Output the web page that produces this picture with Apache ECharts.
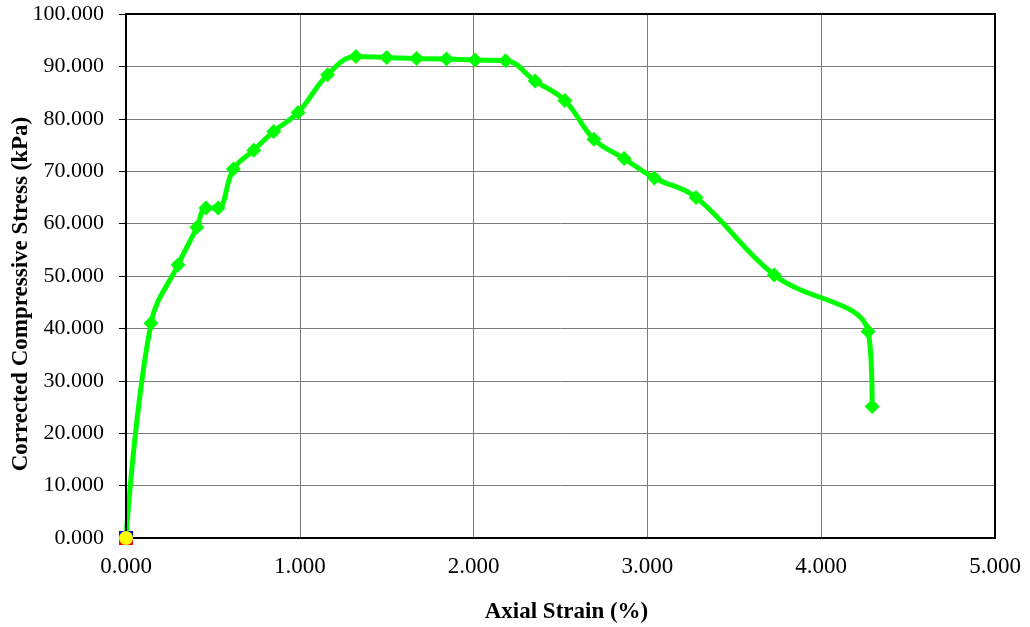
<!DOCTYPE html>
<html>
<head>
<meta charset="utf-8">
<script src="https://cdn.jsdelivr.net/npm/echarts@6/dist/echarts.min.js"></script>
<style>
  html, body { margin: 0; padding: 0; background: #fff; }
  #chart { width: 1030px; height: 627px; }
</style>
</head>
<body>
<div id="chart"></div>
<script>
// axial strain (%) and corrected compressive stress (kPa)
var strain = [0.000, 0.144, 0.299, 0.408, 0.460, 0.530, 0.618, 0.735, 0.850, 0.990, 1.160, 1.323,
  1.500, 1.672, 1.844, 2.008, 2.184, 2.354, 2.525, 2.692, 2.866, 3.040, 3.280, 3.730, 4.270, 4.293]
var stress = [0.000, 41.0, 52.1, 59.3, 63.0, 63.0, 70.4, 74.0, 77.6, 81.2, 88.4, 91.9,
  91.7, 91.5, 91.4, 91.2, 91.1, 87.2, 83.5, 76.1, 72.4, 68.7, 65.0, 50.2, 39.4, 25.1]
var origin = [[0, 0]]

var serif = 'Liberation Serif, Times New Roman, serif'

var chart = echarts.init(document.getElementById('chart'))
window.addEventListener('resize', function () {
  chart.resize()
})

var option = {
  animation: false,
  grid: { left: 126, right: 35, top: 14, bottom: 89, containLabel: false, outerBoundsMode: 'none' },
  xAxis: {
    type: 'value',
    min: 0,
    max: 5,
    interval: 1,
    name: 'Axial Strain (%)',
    nameLocation: 'middle',
    nameGap: 63,
    nameTextStyle: { fontFamily: serif, fontSize: 23, fontWeight: 'bold', color: '#000', padding: [0, 0, 0, 12] },
    axisLine: { show: true, onZero: false, lineStyle: { color: '#000', width: 2 } },
    axisTick: { show: false },
    axisLabel: {
      fontFamily: serif, fontSize: 23, color: '#000', margin: 17,
      formatter: function (v) { return v.toFixed(3) }
    },
    splitLine: { show: true, lineStyle: { color: '#7a7a7a', width: 1 } }
  },
  yAxis: {
    type: 'value',
    min: 0,
    max: 100,
    interval: 10,
    axisLine: { show: true, lineStyle: { color: '#000', width: 2 } },
    axisTick: { show: true, inside: false, length: 7, lineStyle: { color: '#000', width: 1 } },
    axisLabel: {
      fontFamily: serif, fontSize: 22, color: '#000', margin: 22,
      formatter: function (v) { return v.toFixed(3) }
    },
    splitLine: { show: true, lineStyle: { color: '#7a7a7a', width: 1 } }
  },
  series: [
    {
      type: 'line',
      data: strain.map(function (x, i) { return [x, stress[i]] }),
      smooth: 0.4,
      clip: false,
      symbol: 'diamond',
      symbolSize: 15,
      showAllSymbol: true,
      lineStyle: { color: '#00ff00', width: 5 },
      itemStyle: { color: '#00ff00' },
      z: 3
    },
    {
      type: 'scatter',
      data: origin,
      clip: false,
      symbol: 'rect',
      symbolSize: 14,
      itemStyle: { color: '#0000ff', opacity: 1 },
      z: 11
    },
    {
      type: 'scatter',
      data: origin,
      clip: false,
      symbol: 'rect',
      symbolSize: [14, 4],
      symbolOffset: [0, 5],
      itemStyle: { color: '#ff0000', opacity: 1 },
      z: 12
    },
    {
      type: 'scatter',
      data: origin,
      clip: false,
      symbol: 'circle',
      symbolSize: 14,
      itemStyle: { color: '#ffff00', opacity: 1 },
      z: 13
    }
  ],
  graphic: [
    {
      type: 'rect',
      shape: { x: 126, y: 14, width: 869, height: 524 },
      style: { fill: 'none', stroke: '#000', lineWidth: 2 },
      silent: true,
      z: 10
    },
    {
      // y axis title, Excel centres it a bit below the plot middle
      type: 'text',
      x: 21,
      y: 294,
      rotation: Math.PI / 2,
      style: {
        text: 'Corrected Compressive Stress (kPa)',
        fontFamily: serif, fontSize: 23, fontWeight: 'bold', fill: '#000',
        textAlign: 'center', textVerticalAlign: 'middle'
      },
      silent: true
    }
  ]
}
option && chart.setOption(option)
</script>
</body>
</html>
